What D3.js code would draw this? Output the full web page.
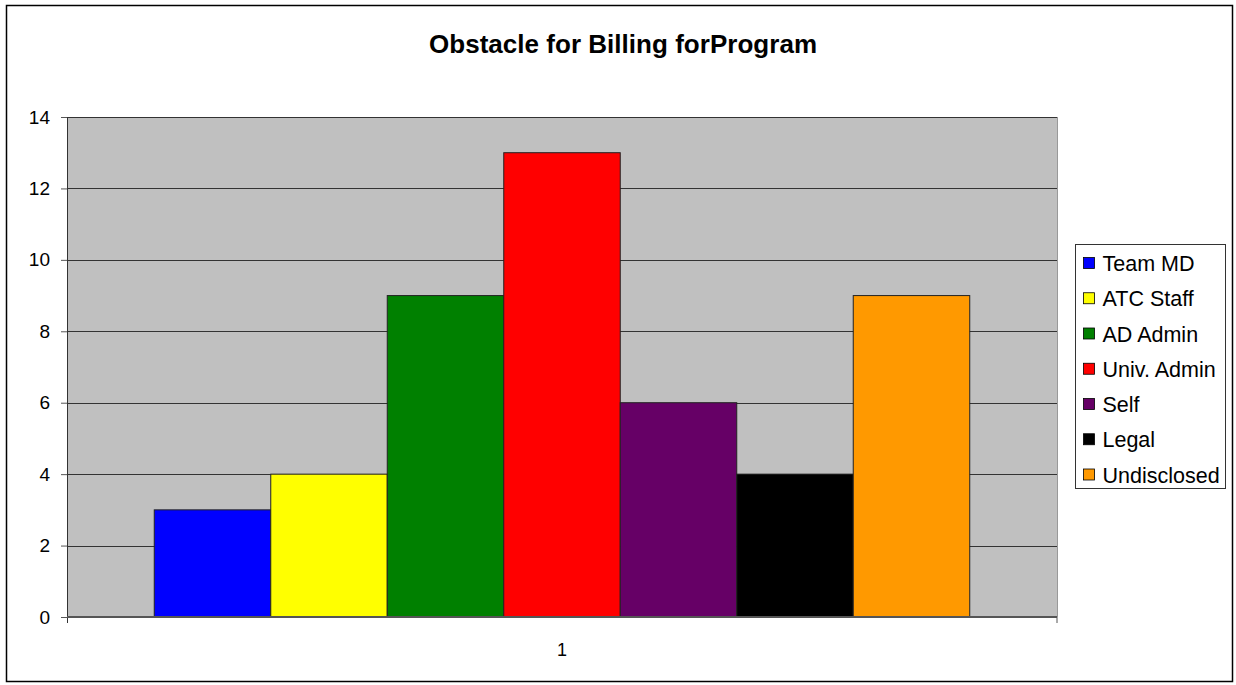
<!DOCTYPE html>
<html>
<head>
<meta charset="utf-8">
<script src="https://cdn.jsdelivr.net/npm/d3@7"></script>
<style>
  body { margin: 0; background: #fff; }
  text { font-family: "Liberation Sans", Arial, sans-serif; }
</style>
</head>
<body>
<div id="chart"></div>
<script>
// data
var seriesNames = ["Team MD", "ATC Staff", "AD Admin", "Univ. Admin", "Self", "Legal", "Undisclosed"];
var seriesValues = [3, 4, 9, 13, 6, 4, 9];
var seriesColors = ["#0000FF", "#FFFF00", "#008000", "#FF0000", "#660066", "#000000", "#FF9900"];
var categories = ["1"];
var yTicks = [0, 2, 4, 6, 8, 10, 12, 14];

var W = 1236, H = 685;
var margin = {top: 117, right: 180, bottom: 68, left: 67},
    width = 1057 - margin.left,
    height = 617 - margin.top;

var svg = d3.select("#chart").append("svg")
    .attr("width", W)
    .attr("height", H);

// outer frame
svg.append("rect")
    .attr("x", 6.5).attr("y", 5.5)
    .attr("width", 1226).attr("height", 676)
    .attr("fill", "#fff")
    .attr("stroke", "#000")
    .attr("stroke-width", 1.5);

svg.append("text")
    .attr("x", 623)
    .attr("y", 53)
    .attr("text-anchor", "middle")
    .attr("font-size", 26)
    .attr("font-weight", "bold")
    .attr("textLength", 388)
    .text("Obstacle for Billing forProgram");

var g = svg.append("g")
    .attr("transform", "translate(" + margin.left + "," + margin.top + ")");

var x0 = d3.scaleBand()
    .domain(categories)
    .range([0, width])
    .paddingInner(0)
    .paddingOuter(0.107);

var x1 = d3.scaleBand()
    .domain(seriesNames)
    .range([0, x0.bandwidth()]);

var y = d3.scaleLinear()
    .domain([0, 14])
    .range([height, 0]);

g.append("rect")
    .attr("width", width)
    .attr("height", height)
    .attr("fill", "#C0C0C0");

// gridlines
g.selectAll("line.grid")
    .data(yTicks.filter(function(d) { return d > 0; }))
    .enter()
    .append("line")
    .attr("class", "grid")
    .attr("x1", 0).attr("x2", width)
    .attr("y1", function(d) { return Math.round(y(d)) + 0.5; })
    .attr("y2", function(d) { return Math.round(y(d)) + 0.5; })
    .attr("stroke", "#333")
    .attr("stroke-width", 1);

// right edge of plot
g.append("line")
    .attr("x1", width + 0.5).attr("x2", width + 0.5)
    .attr("y1", 0).attr("y2", height)
    .attr("stroke", "#999");

// bars
g.selectAll("rect.bar")
    .data(seriesValues)
    .enter()
    .append("rect")
    .attr("class", "bar")
    .attr("x", function(d, i) { return x0(categories[0]) + x1(seriesNames[i]); })
    .attr("y", function(d) { return y(d); })
    .attr("width", x1.bandwidth())
    .attr("height", function(d) { return height - y(d); })
    .attr("fill", function(d, i) { return seriesColors[i]; })
    .attr("stroke", "#222")
    .attr("stroke-width", 1);

// axes
var yAxis = d3.axisLeft(y)
    .tickValues(yTicks)
    .tickSize(6)
    .tickPadding(11);

var yAxisGroup = g.append("g")
    .attr("class", "y-axis")
    .call(yAxis);

yAxisGroup.select(".domain").attr("stroke", "#333").attr("d", "M0.5,0V" + (height + 6));
yAxisGroup.selectAll(".tick line").attr("stroke", "#555");
yAxisGroup.selectAll("text")
    .attr("font-size", 19)
    .attr("fill", "#000")
    .style("font-family", "Liberation Sans, Arial, sans-serif");

var xAxis = d3.axisBottom(x0)
    .tickSize(0)
    .tickPadding(26);

var xAxisGroup = g.append("g")
    .attr("class", "x-axis")
    .attr("transform", "translate(0," + height + ")")
    .call(xAxis);

xAxisGroup.select(".domain").attr("stroke", "#555").attr("stroke-width", 2)
    .attr("d", "M0,0H" + width);
xAxisGroup.append("line")
    .attr("x1", width).attr("x2", width)
    .attr("y1", 0).attr("y2", 6)
    .attr("stroke", "#555");
xAxisGroup.selectAll("text")
    .attr("font-size", 18)
    .attr("fill", "#000")
    .style("font-family", "Liberation Sans, Arial, sans-serif");

// legend
var legend = svg.append("g")
    .attr("transform", "translate(1075.5,244.5)");

legend.append("rect")
    .attr("width", 150)
    .attr("height", 244)
    .attr("fill", "#fff")
    .attr("stroke", "#333");

var items = legend.selectAll("g.item")
    .data(seriesNames)
    .enter()
    .append("g")
    .attr("class", "item")
    .attr("transform", function(d, i) { return "translate(8," + (19 + i * 35.25) + ")"; });

items.append("rect")
    .attr("x", 0).attr("y", -6)
    .attr("width", 11).attr("height", 11)
    .attr("fill", function(d, i) { return seriesColors[i]; })
    .attr("stroke", "#000")
    .attr("stroke-width", 0.8);

items.append("text")
    .attr("x", 19)
    .attr("y", 7.5)
    .attr("font-size", 21.5)
    .text(function(d) { return d; });
</script>
</body>
</html>
